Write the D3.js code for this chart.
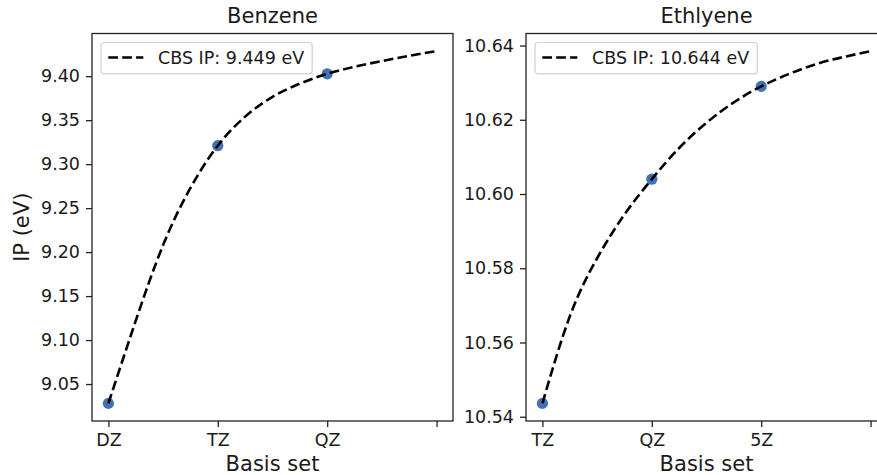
<!DOCTYPE html>
<html>
<head>
<meta charset="utf-8">
<script src="https://cdn.jsdelivr.net/npm/d3@7"></script>
<style>
    body { margin: 0; background: #fff; }
    svg { display: block; font-family: "DejaVu Sans", sans-serif; }
</style>
</head>
<body>
<svg id="chart" width="877" height="475"></svg>
<script>
// measured points
const benzeneBasis = ["DZ", "TZ", "QZ"];
const benzeneIP = [9.028, 9.321, 9.4027];
const benzeneCBS = "9.449";

const ethyleneBasis = ["TZ", "QZ", "5Z"];
const ethyleneIP = [10.5436, 10.604, 10.629];
const ethyleneCBS = "10.644";

// fitted curve at quarter steps
const fitX = [0, 0.25, 0.5, 0.75, 1, 1.25, 1.5, 1.75, 2, 2.25, 2.5, 2.75, 3];
const benzeneFit = [9.028, 9.122, 9.208, 9.273, 9.321, 9.354, 9.3765, 9.3915, 9.4027, 9.4108, 9.4172, 9.4232, 9.4285];
const ethyleneFit = [10.5436, 10.567, 10.5827, 10.5945, 10.604, 10.6124, 10.6192, 10.6247, 10.629, 10.6323, 10.635, 10.6369, 10.6385];

const benzeneTicks = [9.05, 9.10, 9.15, 9.20, 9.25, 9.30, 9.35, 9.40];
const ethyleneTicks = [10.54, 10.56, 10.58, 10.60, 10.62, 10.64];

const svg = d3.select("#chart");
const plotTop = 33.5, plotBottom = 421;
const tickFont = "17.5px", labelFont = "21px";
const pointColor = "#4272b4";

function drawPanel(opts) {
    const { left, right, title, basis, ip, fit, ticks, cbs } = opts;
    const g = svg.append("g");

    const x = d3.scaleLinear().domain([-0.15, 3.15]).range([left, right]);
    const lo = d3.min(fit), hi = d3.max(fit);
    const pad = (hi - lo) * 0.05;
    const y = d3.scaleLinear().domain([lo - pad, hi + pad]).range([plotBottom, plotTop]);

    // axes
    const xAxis = d3.axisBottom(x)
        .tickValues([0, 1, 2, 3])
        .tickFormat(d => basis[d] || "")
        .tickSize(6).tickPadding(7).tickSizeOuter(0);
    const yAxis = d3.axisLeft(y)
        .tickValues(ticks)
        .tickFormat(d3.format(".2f"))
        .tickSize(6).tickPadding(6).tickSizeOuter(0);

    const gx = g.append("g").attr("transform", `translate(0,${plotBottom})`).call(xAxis);
    const gy = g.append("g").attr("transform", `translate(${left},0)`).call(yAxis);
    [gx, gy].forEach(a => {
        a.select(".domain").remove();
        a.selectAll(".tick line").attr("stroke", "#222").attr("stroke-width", 1.3);
        a.selectAll(".tick text")
            .attr("fill", "#1a1a1a")
            .style("font-size", tickFont)
            .style("font-family", "DejaVu Sans");
    });

    // points under the dashed curve
    g.append("g").selectAll("circle")
        .data(ip)
        .join("circle")
        .attr("cx", (d, i) => x(i))
        .attr("cy", d => y(d))
        .attr("r", 5.6)
        .attr("fill", pointColor);

    const line = d3.line()
        .x((d, i) => x(fitX[i]))
        .y(d => y(d))
        .curve(d3.curveNatural);

    g.append("path")
        .datum(fit)
        .attr("d", line)
        .attr("fill", "none")
        .attr("stroke", "#000")
        .attr("stroke-width", 2.6)
        .attr("stroke-dasharray", "9.7,4.2");

    // frame
    g.append("rect")
        .attr("x", left).attr("y", plotTop)
        .attr("width", right - left).attr("height", plotBottom - plotTop)
        .attr("fill", "none")
        .attr("stroke", "#222")
        .attr("stroke-width", 1.3);

    // legend
    const lg = g.append("g").attr("transform", `translate(${left + 9},${plotTop + 9})`);
    const box = lg.append("rect")
        .attr("height", 31.3)
        .attr("rx", 3)
        .attr("fill", "#fff")
        .attr("fill-opacity", 0.8)
        .attr("stroke", "#d0d0d0")
        .attr("stroke-width", 1.2);
    lg.append("line")
        .attr("x1", 7.3).attr("x2", 42.3)
        .attr("y1", 15).attr("y2", 15)
        .attr("stroke", "#000")
        .attr("stroke-width", 2.6)
        .attr("stroke-dasharray", "9.7,4.2");
    const lt = lg.append("text")
        .attr("x", 57).attr("y", 21.3)
        .attr("fill", "#1a1a1a")
        .style("font-size", tickFont)
        .text(`CBS IP: ${cbs} eV`);
    box.attr("width", 57 + lt.node().getComputedTextLength() + 8);

    // title and x label
    g.append("text")
        .attr("x", (left + right) / 2).attr("y", 23.3)
        .attr("text-anchor", "middle")
        .attr("fill", "#1a1a1a")
        .style("font-size", labelFont)
        .text(title);
    g.append("text")
        .attr("x", (left + right) / 2).attr("y", 470.5)
        .attr("text-anchor", "middle")
        .attr("fill", "#1a1a1a")
        .style("font-size", labelFont)
        .text("Basis set");
}

drawPanel({
    left: 92, right: 453, title: "Benzene",
    basis: benzeneBasis, ip: benzeneIP, fit: benzeneFit,
    ticks: benzeneTicks, cbs: benzeneCBS
});
drawPanel({
    left: 526, right: 887, title: "Ethlyene",
    basis: ethyleneBasis, ip: ethyleneIP, fit: ethyleneFit,
    ticks: ethyleneTicks, cbs: ethyleneCBS
});

svg.append("text")
    .attr("transform", `translate(29,${(plotTop + plotBottom) / 2}) rotate(-90)`)
    .attr("text-anchor", "middle")
    .attr("fill", "#1a1a1a")
    .style("font-size", labelFont)
    .text("IP (eV)");
</script>
</body>
</html>
